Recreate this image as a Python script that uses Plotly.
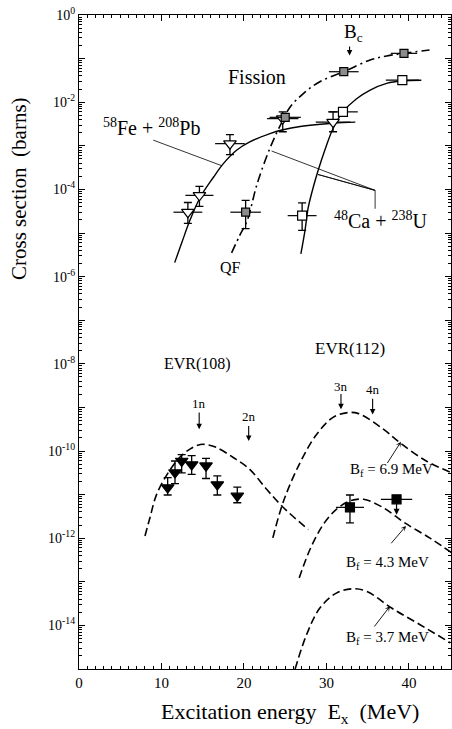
import plotly.graph_objects as go

# ---------------- data ----------------
# Fission, 58Fe + 208Pb (open down-triangles)
fepb_x = [13.2, 14.6, 18.3, 24.7, 30.8]
fepb_y = [3.0e-5, 7.3e-5, 1.12e-3, 4.2e-3, 3.5e-3]
fepb_hi = [5.0e-5, 1.17e-4, 1.8e-3, 6.0e-3, 6.0e-3]
fepb_lo = [1.66e-5, 4.1e-5, 6.3e-4, 2.1e-3, 2.1e-3]
fepb_xerr = [1.75, 1.7, 1.8, 1.9, 2.1]

# Fission, 48Ca + 238U (open squares)
cau_x = [27.05, 32.0, 39.2]
cau_y = [2.5e-5, 6.0e-3, 3.2e-2]
cau_hi = [4.9e-5, 6.0e-3, 3.2e-2]
cau_lo = [1.15e-5, 6.0e-3, 3.2e-2]
cau_xerr = [1.75, 1.8, 2.0]

# Quasi-fission (grey squares)
qf_x = [20.2, 25.0, 32.1, 39.4]
qf_y = [3.0e-5, 4.5e-3, 5.0e-2, 1.32e-1]
qf_hi = [5.6e-5, 4.5e-3, 5.0e-2, 1.32e-1]
qf_lo = [1.26e-5, 4.5e-3, 5.0e-2, 1.32e-1]
qf_xerr = [1.85, 1.9, 1.8, 1.6]

# fission curves
fepb_curve_x = [11.6, 12.5, 13.45, 14.7, 16.3, 17.5, 19.1, 20.7, 23.15, 24.6, 27.0, 30.8, 33.5]
fepb_curve_y = [2.09e-6, 6.3e-6, 1.95e-5, 6.6e-5, 1.9e-4, 3.9e-4, 7.9e-4, 1.23e-3, 1.9e-3, 2.3e-3, 2.8e-3, 3.3e-3, 3.5e-3]
cau_curve_x = [26.9, 27.4, 27.8, 28.4, 29.0, 29.8, 30.8, 32.0, 33.65, 35.3, 37.3, 39.2, 41.5]
cau_curve_y = [3.3e-6, 1.15e-5, 3.9e-5, 1.12e-4, 2.75e-4, 7.9e-4, 2.5e-3, 6.0e-3, 1.2e-2, 1.9e-2, 2.7e-2, 3.1e-2, 3.2e-2]
qf_curve_x = [18.5, 19.5, 20.4, 21.6, 23.2, 24.6, 25.6, 27.2, 29.2, 32.1, 35.3, 37.3, 39.4, 42.5]
qf_curve_y = [3.5e-6, 8.9e-6, 1.95e-5, 1.35e-4, 9.3e-4, 3.5e-3, 7.8e-3, 1.58e-2, 2.95e-2, 5.0e-2, 9.3e-2, 1.15e-1, 1.32e-1, 1.58e-1]

# EVR(108) data (filled down-triangles)
evr108_x = [10.75, 11.64, 12.45, 13.66, 15.4, 16.77, 19.19]
evr108_y = [1.45e-11, 3.2e-11, 5.9e-11, 4.9e-11, 4.6e-11, 1.7e-11, 9.3e-12]
evr108_hi = [2.45e-11, 5.9e-11, 8.3e-11, 7.8e-11, 6.8e-11, 2.7e-11, 1.48e-11]
evr108_lo = [9.8e-12, 1.78e-11, 3.16e-11, 2.9e-11, 2.34e-11, 9.8e-12, 6.5e-12]

# EVR(112) data (filled squares)
evr112_x = [32.85, 38.5]
evr112_y = [5.1e-12, 7.8e-12]
evr112_hi = [9.8e-12, 7.8e-12]
evr112_lo = [2.24e-12, 7.8e-12]
evr112_xerr = [1.7, 1.9]

# EVR calculations
evr108_curve_x = [8.0, 8.6, 9.4, 10.8, 12.2, 13.5, 14.7, 15.7, 16.7, 18.7, 20.7, 22.75, 24.8, 27.8]
evr108_curve_y = [1.12e-12, 2.95e-12, 1.0e-11, 3.16e-11, 7.1e-11, 1.12e-10, 1.41e-10, 1.38e-10, 1.2e-10, 7.1e-11, 3.8e-11, 1.32e-11, 5.0e-12, 1.58e-12]
bf69_x = [23.5, 24.8, 26.8, 28.8, 30.8, 32.6, 33.9, 36.9, 38.9, 42.1, 45.2]
bf69_y = [1.02e-12, 7.1e-12, 5.4e-11, 2.4e-10, 5.9e-10, 7.6e-10, 7.2e-10, 3.16e-10, 1.55e-10, 5.9e-11, 3.16e-11]
bf43_x = [26.7, 28.0, 29.6, 31.2, 32.8, 34.5, 36.9, 39.5, 42.5, 45.2]
bf43_y = [1.23e-13, 5.5e-13, 2.04e-12, 4.6e-12, 7.1e-12, 7.8e-12, 5.0e-12, 2.24e-12, 1.02e-12, 4.6e-13]
bf37_x = [26.2, 27.6, 29.2, 31.2, 33.2, 34.9, 37.9, 41.3, 45.0]
bf37_y = [1.0e-15, 6.2e-15, 2.5e-14, 5.5e-14, 6.9e-14, 6.0e-14, 2.5e-14, 1.05e-14, 4.0e-15]

# leader lines for reaction labels
fepb_lead_x = [9.0, 17.3]
fepb_lead_y = [1.35e-3, 3.5e-4]
cau_lead_x = [23.35, 35.9, 28.97, 35.9, 35.9]
cau_lead_y = [7.6e-4, 9.5e-5, 2.2e-4, 9.5e-5, 3.6e-5]

x_ticks = [0, 10, 20, 30, 40]
y_decades = list(range(0, -16, -1))

# ---------------- figure ----------------
FONT = "Liberation Serif"
fig = go.Figure()

def up(hi, y):
    return [h - v for h, v in zip(hi, y)]

def dn(lo, y):
    return [v - l for l, v in zip(lo, y)]

# curves
fig.add_trace(go.Scatter(x=fepb_curve_x, y=fepb_curve_y, mode="lines", line=dict(color="black", width=1.4, shape="spline")))
fig.add_trace(go.Scatter(x=cau_curve_x, y=cau_curve_y, mode="lines", line=dict(color="black", width=1.4, shape="spline")))
fig.add_trace(go.Scatter(x=qf_curve_x, y=qf_curve_y, mode="lines",
                         line=dict(color="black", width=1.6, dash="9px,4px,2px,4px", shape="spline")))
for cx, cy in [(evr108_curve_x, evr108_curve_y), (bf69_x, bf69_y), (bf43_x, bf43_y), (bf37_x, bf37_y)]:
    fig.add_trace(go.Scatter(x=cx, y=cy, mode="lines",
                             line=dict(color="black", width=1.6, dash="8px,4px", shape="spline")))

# leader lines
fig.add_trace(go.Scatter(x=fepb_lead_x, y=fepb_lead_y, mode="lines", line=dict(color="black", width=0.8)))
fig.add_trace(go.Scatter(x=cau_lead_x, y=cau_lead_y, mode="lines", line=dict(color="black", width=0.8)))

def pts(x, y, hi, lo, xerr, symbol, fill, size):
    ey = dict(type="data", symmetric=False, array=up(hi, y), arrayminus=dn(lo, y),
              color="black", thickness=1.3, width=4)
    ex = None
    if xerr is not None:
        ex = dict(type="data", array=xerr, color="black", thickness=1.2, width=0)
    fig.add_trace(go.Scatter(x=x, y=y, mode="markers", error_y=ey, error_x=ex,
                             marker=dict(symbol=symbol, size=size, color=fill,
                                         line=dict(color="black", width=1.2))))

pts(fepb_x, fepb_y, fepb_hi, fepb_lo, fepb_xerr, "triangle-down", "white", 11)
pts(cau_x, cau_y, cau_hi, cau_lo, cau_xerr, "square", "white", 9)
pts(qf_x, qf_y, qf_hi, qf_lo, qf_xerr, "square", "#8c8c8c", 8)
pts(evr108_x, evr108_y, evr108_hi, evr108_lo, None, "triangle-down", "black", 11)
pts(evr112_x, evr112_y, evr112_hi, evr112_lo, evr112_xerr, "square", "black", 9)

ann = []

def text(x, logy, s, size, xanchor="center"):
    ann.append(dict(x=x, y=logy, xref="x", yref="y", text=s, showarrow=False,
                    font=dict(family=FONT, size=size, color="black"), xanchor=xanchor, yanchor="middle"))

def arrow(x, logy, ax, aylog, head=2, w=1.1):
    ann.append(dict(x=x, y=logy, ax=ax, ay=aylog, xref="x", yref="y", axref="x", ayref="y",
                    text="", showarrow=True, arrowhead=head, arrowsize=1, arrowwidth=w,
                    arrowcolor="black", standoff=0, startstandoff=0))

text(21.6, -1.43, "Fission", 20)
text(8.79, -2.58, "<sup>58</sup>Fe + <sup>208</sup>Pb", 20)
text(36.6, -4.71, "<sup>48</sup>Ca + <sup>238</sup>U", 20)
text(18.4, -5.79, "QF", 16)
text(33.25, -0.42, "B<sub>c</sub>", 19)
arrow(32.8, -0.93, 32.8, -0.69)

text(14.4, -8.01, "EVR(108)", 16)
text(32.85, -7.66, "EVR(112)", 17)
text(14.57, -8.92, "1n", 13)
arrow(14.57, -9.50, 14.57, -9.08)
text(20.6, -9.22, "2n", 13)
arrow(20.57, -9.77, 20.57, -9.39)
text(31.8, -8.51, "3n", 13)
arrow(31.76, -9.04, 31.76, -8.66)
text(35.6, -8.58, "4n", 13)
arrow(35.6, -9.16, 35.6, -8.77)

text(37.94, -10.44, "B<sub>f</sub> = 6.9 MeV", 15)
arrow(39.03, -9.79, 37.27, -10.31, head=3, w=0.9)
text(37.45, -12.57, "B<sub>f</sub> = 4.3 MeV", 15)
arrow(39.64, -11.72, 37.7, -12.15, head=3, w=0.9)
text(37.45, -14.29, "B<sub>f</sub> = 3.7 MeV", 15)
arrow(37.7, -13.56, 35.67, -14.06, head=3, w=0.9)

# upper-limit arrow on the second EVR(112) point
arrow(38.5, -11.46, 38.5, -11.17, head=2, w=1.2)

# axis titles
ann.append(dict(x=(290 - 79) / 372, y=-(713 - 669) / 654, xref="paper", yref="paper",
                text="Excitation energy  E<sub>x</sub>  (MeV)", showarrow=False,
                font=dict(family=FONT, size=22, color="black"), xanchor="center", yanchor="middle"))
ann.append(dict(x=(19 - 79) / 372, y=(669 - 189) / 654, xref="paper", yref="paper",
                text="Cross section  (barns)", showarrow=False, textangle=-90,
                font=dict(family=FONT, size=21, color="black"), xanchor="center", yanchor="middle"))

y_ticktext = [("10<sup>%d</sup>" % d) if (d % 2 == 0 and d > -15) else "" for d in y_decades]
minor_y = [m * 10.0 ** d for d in range(-15, 0) for m in range(2, 10)]

fig.update_layout(
    width=452, height=729,
    margin=dict(l=79, r=1, t=15, b=60),
    paper_bgcolor="white", plot_bgcolor="white",
    showlegend=False,
    annotations=ann,
    font=dict(family=FONT, color="black"),
)
fig.update_xaxes(range=[0, 45.1], tickvals=x_ticks, ticktext=[str(v) for v in x_ticks],
                 ticks="inside", ticklen=6, tickwidth=1, tickcolor="black",
                 showline=True, linecolor="black", linewidth=1.2, mirror="allticks",
                 showgrid=False, zeroline=False,
                 minor=dict(dtick=1, ticks="inside", ticklen=3, tickcolor="black", showgrid=False),
                 tickfont=dict(family=FONT, size=15, color="black"))
fig.update_yaxes(type="log", range=[-15, 0], tickvals=[10.0 ** d for d in y_decades], ticktext=y_ticktext,
                 ticks="inside", ticklen=6, tickwidth=1, tickcolor="black",
                 showline=True, linecolor="black", linewidth=1.2, mirror="allticks",
                 showgrid=False, zeroline=False,
                 minor=dict(tickvals=minor_y, ticks="inside", ticklen=3, tickcolor="black", showgrid=False),
                 tickfont=dict(family=FONT, size=14, color="black"))

fig.write_html("out.html")
